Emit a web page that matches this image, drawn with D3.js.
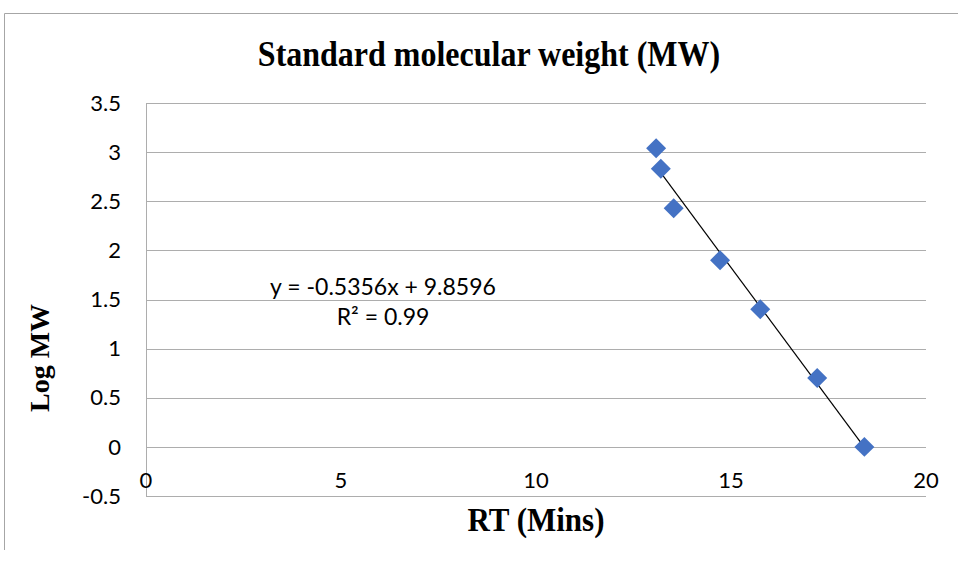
<!DOCTYPE html>
<html><head><meta charset="utf-8">
<script src="https://cdn.jsdelivr.net/npm/d3@7"></script>
<style>body{margin:0;background:#fff}svg{display:block}</style>
</head><body><div id="chart"></div>
<script>
// Data
const rtMins = [13.08, 13.20, 13.53, 14.72, 15.75, 17.21, 18.42];
const logMW  = [3.04, 2.83, 2.43, 1.90, 1.40, 0.70, 0.00];
const xTicks = [0, 5, 10, 15, 20];
const yTicks = [-0.5, 0, 0.5, 1, 1.5, 2, 2.5, 3, 3.5];
const trendSlope = -0.5356;
const trendIntercept = 9.8596;
const equationText = "y = -0.5356x + 9.8596";
const r2Text = "R² = 0.99";
const titleText = "Standard molecular weight (MW)";
const xTitle = "RT (Mins)";
const yTitle = "Log MW";

const W = 958, H = 563;
const svg = d3.select("#chart").append("svg").attr("width", W).attr("height", H);

// outer frame (partial, as in reference)
svg.append("path").attr("d", "M4.5,550 V13.5 H958").attr("fill","none").attr("stroke","#a6a6a6").attr("stroke-width",1);

const x = d3.scaleLinear().domain([0, 20]).range([146, 926]);
const y = d3.scaleLinear().domain([-0.5, 3.5]).range([496, 103]);

// gridlines
svg.append("g").selectAll("line").data(yTicks).join("line")
  .attr("x1", x(0)).attr("x2", x(20))
  .attr("y1", d => Math.round(y(d)) + 0.5).attr("y2", d => Math.round(y(d)) + 0.5)
  .attr("stroke", "#adadad").attr("stroke-width", 1);

// y axis line
svg.append("line").attr("x1", x(0)+0.5).attr("x2", x(0)+0.5).attr("y1", y(3.5)).attr("y2", y(-0.5))
  .attr("stroke", "#adadad");

const tickFont = "Lato, 'Open Sans', sans-serif";
// y tick labels
svg.append("g").selectAll("text").data(yTicks).join("text")
  .attr("x", 121).attr("y", d => y(d)).attr("dy", "0.35em")
  .attr("text-anchor", "end").attr("font-family", tickFont).attr("font-size", 22).attr("fill", "#000")
  .text(d => String(d));

// x tick labels (axis crosses at y=0)
svg.append("g").selectAll("text").data(xTicks).join("text")
  .attr("x", d => x(d)).attr("y", y(0) + 33).attr("dy", "0.35em")
  .attr("text-anchor", "middle").attr("font-family", tickFont).attr("font-size", 22).attr("fill", "#000")
  .text(d => String(d));

// trendline
const xmin = d3.min(rtMins), xmax = d3.max(rtMins);
svg.append("line")
  .attr("x1", x(xmin)).attr("y1", y(trendSlope * xmin + trendIntercept))
  .attr("x2", x(xmax)).attr("y2", y(trendSlope * xmax + trendIntercept))
  .attr("stroke", "#000").attr("stroke-width", 1.2);

// markers
const pts = rtMins.map((v, i) => [v, logMW[i]]);
svg.append("g").selectAll("path").data(pts).join("path")
  .attr("d", d3.symbol(d3.symbolSquare, 200))
  .attr("transform", d => `translate(${x(d[0])},${y(d[1])}) rotate(45)`)
  .attr("fill", "#4472C4");

// equation labels
svg.append("text").attr("x", 383).attr("y", 295).attr("text-anchor", "middle")
  .attr("font-family", tickFont).attr("font-size", 23).text(equationText);
svg.append("text").attr("x", 383).attr("y", 325).attr("text-anchor", "middle")
  .attr("font-family", tickFont).attr("font-size", 23).text(r2Text);

// titles
const serif = "'Liberation Serif', 'Times New Roman', serif";
svg.append("text").attr("transform", "translate(489,66) scale(1,1.15)").attr("text-anchor", "middle")
  .attr("font-family", serif).attr("font-weight", "bold").attr("font-size", 32).text(titleText);
svg.append("text").attr("transform", "translate(536,531) scale(1,1.08)").attr("text-anchor", "middle")
  .attr("font-family", serif).attr("font-weight", "bold").attr("font-size", 31).text(xTitle);
svg.append("text").attr("transform", "translate(49,358) rotate(-90)").attr("text-anchor", "middle")
  .attr("font-family", serif).attr("font-weight", "bold").attr("font-size", 28).text(yTitle);
</script></body></html>
